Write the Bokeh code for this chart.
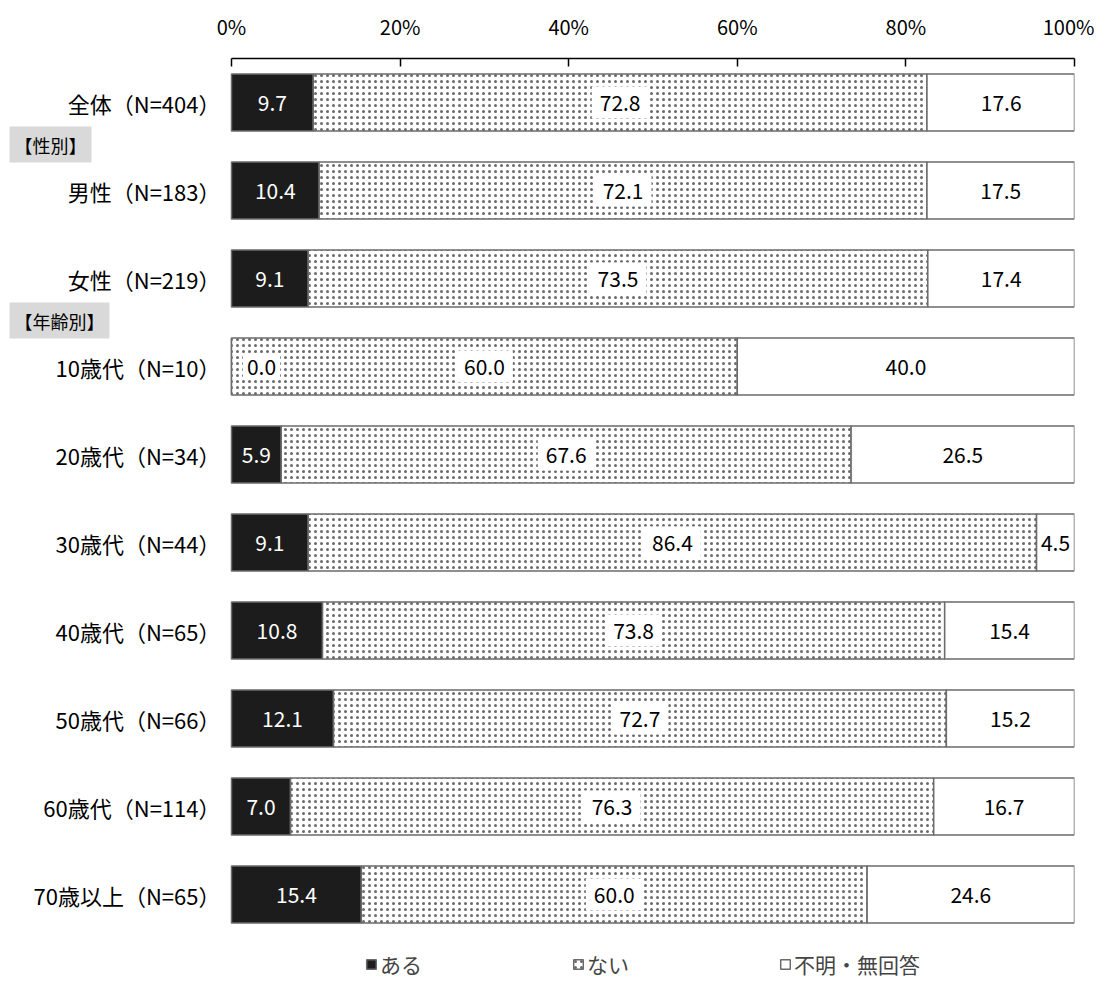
from bokeh.plotting import figure
from bokeh.models import (ColumnDataSource, Range1d, Legend, LegendItem,
                          PrintfTickFormatter, FixedTicker)
from bokeh.core.properties import value
from bokeh.embed import file_html
from bokeh.resources import INLINE

categories = ["全体（N=404）", "男性（N=183）", "女性（N=219）", "10歳代（N=10）", "20歳代（N=34）",
              "30歳代（N=44）", "40歳代（N=65）", "50歳代（N=66）", "60歳代（N=114）", "70歳以上（N=65）"]
aru = [9.7, 10.4, 9.1, 0.0, 5.9, 9.1, 10.8, 12.1, 7.0, 15.4]
nai = [72.8, 72.1, 73.5, 60.0, 67.6, 86.4, 73.8, 72.7, 76.3, 60.0]
fumei = [17.6, 17.5, 17.4, 40.0, 26.5, 4.5, 15.4, 15.2, 16.7, 24.6]
series_names = ["ある", "ない", "不明・無回答"]
tick_values = [0, 20, 40, 60, 80, 100]
section_labels = ["【性別】", "【年齢別】"]
section_before = ["男性（N=183）", "10歳代（N=10）"]

FONT = "Noto Sans CJK JP"
DARK = "#1c1c1c"
EDGE = "#6b6b6b"

# layout (pixels)
LEFT_PX = 231
BAR_PX = 843
ROW_PX = 88
FRAME_H = 937
X0 = -100.0 * LEFT_PX / BAR_PX
n = len(categories)
Y_TOP = float(n)
Y_BOTTOM = Y_TOP - FRAME_H / ROW_PX

ypos = [n - 0.5 - i for i in range(n)]
pos_of = dict(zip(categories, ypos))

a_right = [a for a in aru]
n_right = [a + b for a, b in zip(aru, nai)]
f_right = [a + b + c for a, b, c in zip(aru, nai, fumei)]

src = ColumnDataSource(dict(
    y=ypos, cat=categories,
    a_l=[0.0] * n, a_r=a_right,
    n_l=a_right, n_r=n_right,
    f_l=n_right, f_r=f_right,
    a_mid=[a / 2 for a in aru],
    n_mid=[a + b / 2 for a, b in zip(aru, nai)],
    f_mid=[a + b + c / 2 for a, b, c in zip(aru, nai, fumei)],
    a_txt=[f"{v:.1f}" for v in aru],
    n_txt=[f"{v:.1f}" for v in nai],
    f_txt=[f"{v:.1f}" for v in fumei],
    a_col=["white" if v > 0 else "black" for v in aru],
    a_bg=[DARK if v > 0 else "white" for v in aru],
    a_off=[0 if v > 0 else 30 for v in aru],
))

p = figure(frame_width=LEFT_PX + BAR_PX, frame_height=FRAME_H, output_backend="svg",
           toolbar_location=None,
           y_range=Range1d(Y_BOTTOM, Y_TOP),
           x_range=Range1d(X0, 100), x_axis_location="above", y_axis_location=None,
           min_border_left=0, min_border_right=20, min_border_top=58, min_border_bottom=0)

H = 0.65
r1 = p.hbar(y="y", left="a_l", right="a_r", height=H, source=src,
            fill_color=DARK, line_color=EDGE, line_width=1.5)
r2 = p.hbar(y="y", left="n_l", right="n_r", height=H, source=src,
            fill_color="white", line_color=EDGE, line_width=1.5,
            hatch_pattern="dot", hatch_color="#6a6a6a", hatch_scale=6, hatch_weight=1.8)
r3 = p.hbar(y="y", left="f_l", right="f_r", height=H, source=src,
            fill_color="white", line_color=EDGE, line_width=1.5)

p.text(x="a_mid", y="y", text="a_txt", source=src, text_color="a_col",
       text_align="center", text_baseline="middle", text_font=value(FONT),
       text_font_size="21px", x_offset="a_off",
       background_fill_color="a_bg", padding=4)
p.text(x="n_mid", y="y", text="n_txt", source=src, text_color="black",
       text_align="center", text_baseline="middle", text_font=value(FONT),
       text_font_size="21px", background_fill_color="white", padding=8)
p.text(x="f_mid", y="y", text="f_txt", source=src, text_color="black",
       text_align="center", text_baseline="middle", text_font=value(FONT),
       text_font_size="21px")

# category labels (left of bars)
p.text(x=0, y="y", text="cat", source=src, x_offset=-11, text_color="black",
       text_align="right", text_baseline="middle", text_font=value(FONT),
       text_font_size="22px")

# section headers (between groups)
sec = ColumnDataSource(dict(y=[pos_of[c] + 0.5 for c in section_before], t=section_labels))
p.text(x=X0, y="y", text="t", source=sec, x_offset=9, y_offset=-2, text_color="black",
       text_align="left", text_baseline="middle", text_font=value(FONT),
       text_font_size="18px", background_fill_color="#d9d9d9", padding=5)

xa = p.xaxis[0]
xa.bounds = (0, 100)
xa.ticker = FixedTicker(ticks=tick_values)
xa.formatter = PrintfTickFormatter(format="%d%%")
xa.major_label_text_font = FONT
xa.major_label_text_font_size = "20px"
xa.major_label_text_color = "black"
xa.major_label_standoff = 18
xa.axis_line_color = "black"
xa.axis_line_width = 1.5
xa.major_tick_in = 8
xa.major_tick_out = 0
xa.major_tick_line_color = "black"
xa.major_tick_line_width = 1.5
xa.minor_tick_line_color = None

p.xgrid.grid_line_color = None
p.ygrid.grid_line_color = None
p.outline_line_color = None

legend = Legend(items=[LegendItem(label=series_names[0], renderers=[r1]),
                       LegendItem(label=series_names[1], renderers=[r2]),
                       LegendItem(label=series_names[2], renderers=[r3])],
                orientation="horizontal", location=(365, 16), spacing=150,
                glyph_width=12, glyph_height=12, label_standoff=3,
                label_text_font=FONT, label_text_font_size="21px",
                border_line_color=None, background_fill_alpha=0, margin=0, padding=4)
p.add_layout(legend, "center")

open("out.html", "w").write(file_html(p, INLINE))
